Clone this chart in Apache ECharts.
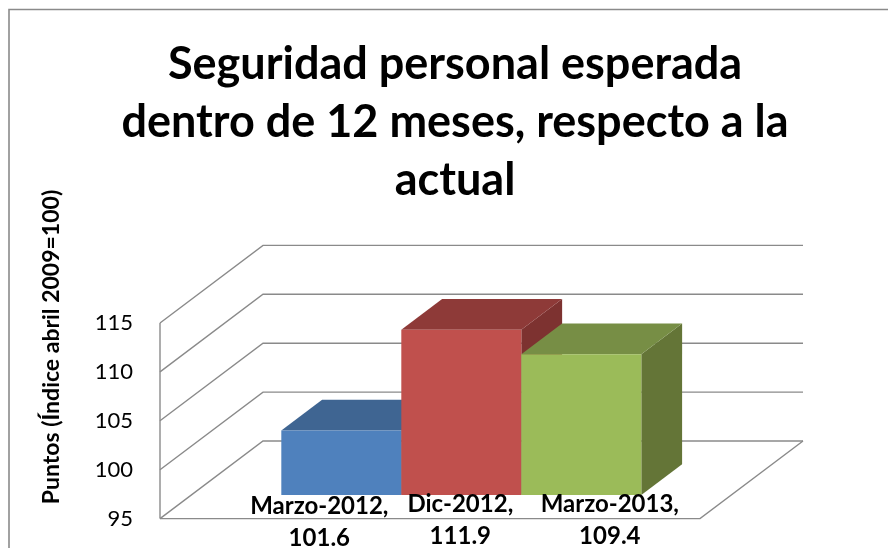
<!DOCTYPE html>
<html>
<head>
<meta charset="utf-8">
<style>
  html, body { margin: 0; padding: 0; background: #fff; }
  #chart { width: 888px; height: 548px; }
</style>
<script src="https://cdn.jsdelivr.net/npm/echarts@6/dist/echarts.min.js"></script>
</head>
<body>
<div id="chart"></div>
<script>
const seriesNames = ['Marzo-2012', 'Dic-2012', 'Marzo-2013'];
const seriesValues = [101.6, 111.9, 109.4];
const yTicks = [95, 100, 105, 110, 115];
const chartTitle = 'Seguridad personal esperada\ndentro de 12 meses, respecto a la\nactual';
const yAxisTitle = 'Puntos (Índice abril 2009=100)';

// bar colours: front, top, side
const barColors = [
    ['#4F81BD', '#3F6592', '#3A5E88'],
    ['#C0504D', '#8E3A38', '#7D3230'],
    ['#9BBB59', '#778E45', '#647537']
];

// fake 3D: how far the back wall sits from the front plane, in px
const depthX = 103;
const depthY = -77.6;
const barDepthFrom = 0.304;
const barDepthTo = 0.7;
const labelShift = [-22, -1, 28.5];
const xMin = -2.25;
const xMax = 2.25;
const gray = '#8A8A8A';

const chart = echarts.init(document.getElementById('chart'));

function back(p, f) {
    return [p[0] + depthX * f, p[1] + depthY * f];
}

function renderWall(params, api) {
    const value = api.value(0);
    const a = api.coord([xMin, value]);
    const b = back(a, 1);
    const c = api.coord([xMax, value]);
    const children = [{
        type: 'polyline',
        shape: { points: [a, b, back(c, 1)] },
        style: { fill: null, stroke: gray, lineWidth: 1.4 }
    }];
    if (params.dataIndex === 0) {
        // floor edges
        children.push({
            type: 'polyline',
            shape: { points: [a, c, back(c, 1)] },
            style: { fill: null, stroke: gray, lineWidth: 1.4 }
        });
        // front value axis
        children.push({
            type: 'line',
            shape: { x1: a[0], y1: a[1], x2: a[0], y2: api.coord([xMin, yTicks[yTicks.length - 1]])[1] },
            style: { stroke: gray, lineWidth: 1.4 }
        });
    }
    return { type: 'group', children: children };
}

function renderBar(params, api) {
    const i = params.dataIndex;
    const x = api.value(0);
    const value = api.value(1);
    const colors = barColors[i];
    const shift = back([0, 0], barDepthFrom);
    const move = p => [p[0] + shift[0], p[1] + shift[1]];
    const d = barDepthTo - barDepthFrom;

    const bl = move(api.coord([x - 0.5, yTicks[0]]));
    const br = move(api.coord([x + 0.5, yTicks[0]]));
    const tl = move(api.coord([x - 0.5, value]));
    const tr = move(api.coord([x + 0.5, value]));
    const poly = (points, fill) => ({
        type: 'polygon',
        shape: { points: points },
        style: { fill: fill }
    });

    return {
        type: 'group',
        children: [
            poly([br, tr, back(tr, d), back(br, d)], colors[2]),
            poly([tl, tr, back(tr, d), back(tl, d)], colors[1]),
            poly([tl, tr, br, bl], colors[0]),
            {
                type: 'text',
                z2: 10,
                style: {
                    x: (bl[0] + br[0]) / 2 + labelShift[i],
                    y: bl[1] - 7 + (i === 0 ? 2 : 0),
                    text: seriesNames[i] + ',\n' + value.toFixed(1),
                    fill: '#000',
                    font: 'bold 24px Lato',
                    lineHeight: 32,
                    align: 'center',
                    verticalAlign: 'top'
                }
            }
        ]
    };
}

const option = {
    animation: false,
    backgroundColor: '#fff',
    title: {
        text: chartTitle,
        left: 450,
        top: 30,
        textAlign: 'center',
        textStyle: {
            fontFamily: 'Lato',
            fontWeight: 'bold',
            fontSize: 45,
            lineHeight: 58,
            color: '#000'
        }
    },
    grid: { left: 160, right: 188, top: 323, bottom: 29.4 },
    xAxis: { type: 'value', min: xMin, max: xMax, show: false },
    yAxis: {
        type: 'value',
        min: yTicks[0],
        max: yTicks[yTicks.length - 1],
        interval: 5,
        axisLine: { show: false },
        axisTick: { show: false },
        splitLine: { show: false },
        axisLabel: {
            margin: 27,
            fontFamily: 'Lato',
            fontSize: 22,
            color: '#000'
        }
    },
    graphic: [{
        type: 'polyline',
        shape: { points: [[9, 548], [9, 9.5], [888, 9.5]] },
        style: { fill: null, stroke: gray, lineWidth: 1.6 }
    }, {
        type: 'text',
        x: 52,
        y: 347,
        rotation: Math.PI / 2,
        style: {
            text: yAxisTitle,
            fill: '#000',
            font: 'bold 23px Lato',
            align: 'center',
            verticalAlign: 'middle'
        }
    }],
    series: [{
        type: 'custom',
        name: 'walls',
        coordinateSystem: 'cartesian2d',
        renderItem: renderWall,
        clip: false,
        encode: { y: 0 },
        data: yTicks.map(v => [v]),
        z: 1
    }, {
        type: 'custom',
        name: 'bars',
        coordinateSystem: 'cartesian2d',
        renderItem: renderBar,
        clip: false,
        encode: { x: 0, y: 1 },
        data: seriesValues.map((v, i) => [i - 1, v]),
        z: 2
    }]
};

chart.setOption(option);
</script>
</body>
</html>
